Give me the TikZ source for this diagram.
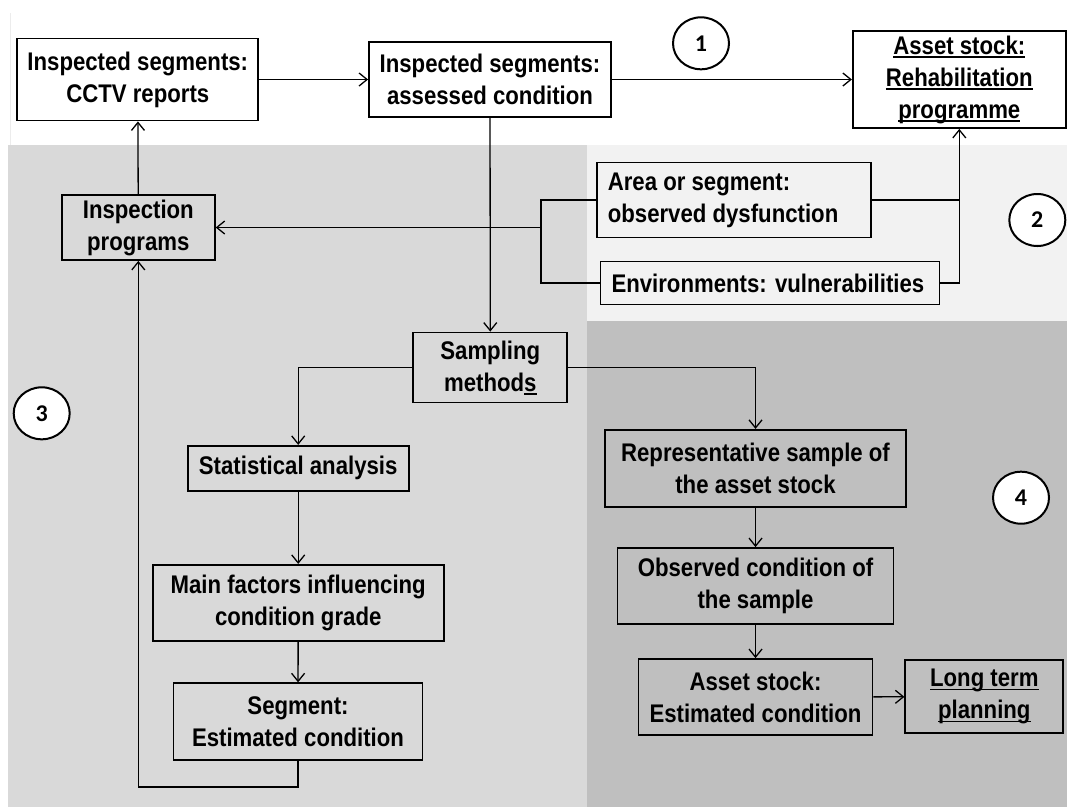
\documentclass[tikz,border=0pt]{standalone}
\usepackage{fontspec}
\setmainfont{Liberation Sans}[FakeStretch=0.87]
\newfontfamily\numfont{Carlito}
\usetikzlibrary{arrows.meta,shapes.geometric}

\newsavebox\undlbox
\newcommand{\undl}[1]{\sbox\undlbox{#1}\rlap{\rule[-3.5pt]{\wd\undlbox}{1.5pt}}\usebox\undlbox}

\definecolor{zoneinsp}{HTML}{D9D9D9}
\definecolor{zoneenv}{HTML}{F2F2F2}
\definecolor{zonestock}{HTML}{BFBFBF}

\tikzset{
  box/.style={draw, line width=1.8pt, align=flush center, inner sep=2pt,
    font=\fontsize{25.5}{32}\selectfont\bfseries},
  num/.style={draw, ellipse, line width=2pt, fill=white, inner sep=0pt,
    minimum width=56pt, minimum height=52pt,
    font=\fontsize{24}{28}\selectfont\numfont\bfseries},
  link/.style={line width=1.3pt, -{Straight Barb[length=8pt,width=13pt]}},
  wire/.style={line width=1.3pt}
}

\begin{document}
\begin{tikzpicture}[x=1pt,y=1pt]
        \useasboundingbox (0,0) rectangle (1067,-807);
        % zones
        \fill[white] (0,0) rectangle (1067,-807);
        \draw[gray!15] (10,-13) -- (10,-145);
        \fill[zoneinsp] (8,-145) rectangle (587,-807);
        \fill[zoneenv] (587,-145) rectangle (1067,-320.5);
        \fill[zonestock] (587,-320.5) rectangle (1067,-807);

        % boxes
        \node[box, fill=white, minimum width=241pt, minimum height=82pt] (cctv) at (137.8,-79.5) {Inspected segments:\\CCTV reports};
        \node[box, fill=white, minimum width=242pt, minimum height=75pt] (assessed) at (490,-79.5) {Inspected segments:\\assessed condition};
        \node[box, fill=white, minimum width=213pt, minimum height=97pt] (rehab) at (959.3,-79.5) {\undl{Asset stock:}\\\undl{Rehabilitation}\\\undl{programme}};
        \node[box, fill=zoneinsp, minimum width=153pt, minimum height=65pt] (insp) at (138.3,-227.5) {Inspection\\programs};
        \node[box, fill=zoneenv, align=flush left, text width=252pt, inner xsep=11pt, minimum height=75pt] (area) at (733.8,-200) {Area or segment:\\observed dysfunction};
        \node[box, fill=zoneenv, align=flush left, text width=317pt, inner xsep=11pt, minimum height=43pt] (env) at (770,-283) {Environments: vulnerabilities};
        \node[box, fill=zoneinsp, minimum width=154pt, minimum height=70pt] (sampling) at (490.3,-367.5) {Sampling\\method\undl{s}};
        \node[box, fill=zoneinsp, minimum width=221pt, minimum height=45pt] (stat) at (298.2,-468.3) {Statistical analysis};
        \node[box, fill=zoneinsp, minimum width=291pt, minimum height=76pt] (factors) at (298.2,-602.8) {Main factors influencing\\condition grade};
        \node[box, fill=zoneinsp, minimum width=249pt, minimum height=77pt] (segest) at (298,-721.7) {Segment:\\Estimated condition};
        \node[box, fill=zonestock, minimum width=301pt, minimum height=77pt] (sample) at (755.5,-468.3) {Representative sample of\\the asset stock};
        \node[box, fill=zonestock, minimum width=276pt, minimum height=76pt] (observed) at (755.5,-586) {Observed condition of\\the sample};
        \node[box, fill=zonestock, minimum width=234pt, minimum height=76pt] (stockest) at (755.5,-697) {Asset stock:\\Estimated condition};
        \node[box, fill=zonestock, minimum width=158pt, minimum height=73pt] (longterm) at (984.3,-696.7) {\undl{Long term}\\\undl{planning}};

        % numbered zones
        \foreach \n/\x/\y in {1/701/-43.3, 2/1037.3/-220, 3/41.7/-413.3, 4/1021/-497.7}
            \node[num] (zone\n) at (\x,\y) {\n};

        % links
        \coordinate (split) at (541,-227.5);
        \draw[link] (cctv) -- (assessed);
        \draw[link] (assessed) -- (rehab);
        \draw[link] (insp) -- (cctv);
        \draw[link] (assessed) -- (sampling);
        \draw[wire] (area.east) -- (area.east -| rehab.south);
        \draw[link] (env.east) -| (rehab.south);
        \draw[wire] (area.west) -| (split) |- (env.west);
        \draw[link] (split) -- (insp.east);
        \draw[link] (sampling.west) -| (stat.north);
        \draw[link] (sampling.east) -| (sample.north);
        \draw[link] (stat) -- (factors);
        \draw[link] (factors) -- (segest);
        \draw[link] (segest.south) -- ++(0,-26) -| (insp.south);
        \draw[link] (sample) -- (observed);
        \draw[link] (observed) -- (stockest);
        \draw[link] (stockest) -- (longterm);
\end{tikzpicture}
\end{document}
